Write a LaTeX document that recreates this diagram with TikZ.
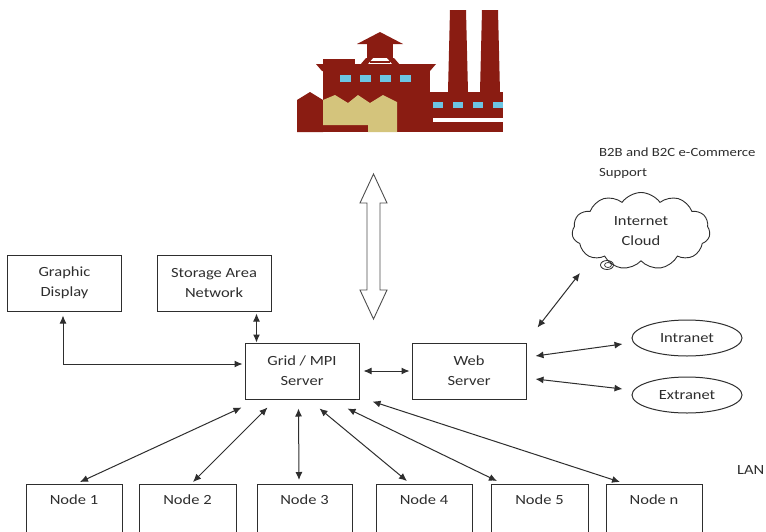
\documentclass[tikz,border=0pt]{standalone}
\usepackage{fontspec}
\setmainfont{Carlito}[FakeStretch=1.18]
\usetikzlibrary{arrows.meta,shapes.geometric,shapes.symbols}
\definecolor{ink}{HTML}{2E2E2E}
\definecolor{brick}{HTML}{8A1C12}
\definecolor{sand}{HTML}{D4C47C}
\definecolor{pane}{HTML}{6CC5E3}
\begin{document}
\begin{tikzpicture}[x=1pt,y=-1pt,
  txt/.style={text=ink, font=\fontsize{14}{20}\selectfont},
  box/.style={txt, draw=ink, line width=1pt, rectangle, align=center, inner sep=0pt},
  srvbox/.style={box, minimum width=114pt, minimum height=56pt},
  nodebox/.style={box, minimum height=60pt, text height=9pt, text depth=29pt, anchor=north},
  oval/.style={txt, draw=ink, ellipse, line width=1pt, minimum width=110pt, minimum height=36pt, inner sep=0pt},
  link/.style={draw=ink, line width=1pt, {Latex[length=8pt,width=7pt]}-{Latex[length=8pt,width=7pt]}},
]
\clip (0,0) rectangle (766,531);
\fill[white] (0,0) rectangle (766,531);

% ---- factory ----
\fill[brick] (448,92) -- (450,10) -- (466,10) -- (468,92) -- cycle;
\fill[brick] (480,92) -- (482,10) -- (498,10) -- (500,92) -- cycle;
\fill[brick] (430,92) rectangle (503,132);
\fill[white] (433,118) rectangle (503,122);
\foreach \wx in {433,453,473,493} \fill[pane] (\wx,101.5) rectangle ++(10,6);
\fill[brick] (323,67) rectangle (430,132);
\fill[brick] (316,64) -- (436,64) -- (430,71) -- (322,71) -- cycle;
\fill[brick] (323,59) rectangle (355,65);
\fill[brick] (357,44) -- (380,32) -- (403,44) -- cycle;
\fill[brick] (367,43) rectangle (393,58);
\fill[brick] (366,58) -- (373,58) -- (367,65) -- (360,65) -- cycle;
\fill[brick] (387,58) -- (394,58) -- (400,65) -- (393,65) -- cycle;
\fill[brick] (370,61) rectangle (390,63);
\foreach \wx in {340,360,380,400} \fill[pane] (\wx,75) rectangle ++(10.5,7);
\fill[brick] (297,132) -- (297,100) -- (310,92) -- (323,100) -- (323,132) -- cycle;
\fill[sand] (323,100) -- (335,95) -- (348,103) -- (358,95) -- (370,103) -- (383,95)
  -- (397,102) -- (397,132) -- (368,132) -- (368,125) -- (323,125) -- cycle;

% ---- hollow double arrow below the factory ----
\draw[ink!85, line width=0.9pt, fill=white, line join=miter]
  (373.5,174) -- (387,203) -- (380,203) -- (380,290) -- (387,290) -- (373.5,319)
  -- (360,290) -- (367,290) -- (367,203) -- (360,203) -- cycle;

% ---- boxes ----
\node[srvbox] (gd)   at (64.5,283) {Graphic\\Display};
\node[srvbox] (san)  at (214,283)  {Storage Area\\Network};
\node[srvbox] (grid) at (302,371)  {Grid / MPI\\Server};
\node[srvbox] (web)  at (469,371)  {Web\\Server};

\node[nodebox, minimum width=96pt] (n1) at (74,484)    {Node 1};
\node[nodebox, minimum width=97pt] (n2) at (187.5,484) {Node 2};
\node[nodebox, minimum width=95pt] (n3) at (304.5,484) {Node 3};
\node[nodebox, minimum width=96pt] (n4) at (424,484)   {Node 4};
\node[nodebox, minimum width=97pt] (n5) at (539.5,484) {Node 5};
\node[nodebox, minimum width=96pt] (nn) at (654,484)   {Node n};

\node[oval] (intra) at (687,338) {Intranet};
\node[oval] (extra) at (687,395) {Extranet};

\node[txt, cloud, draw=ink, line width=0.9pt, cloud puffs=11, cloud puff arc=110,
      aspect=1.8, minimum width=138pt, minimum height=77pt, align=center,
      inner sep=0pt] (cloud) at (641,231) {Internet\\Cloud};
\draw[ink, line width=0.8pt] (607,265) ellipse [x radius=6.5pt, y radius=4.5pt];
\draw[ink, line width=0.7pt] (608,265) ellipse [x radius=3.5pt, y radius=2.5pt];

\node[txt, font=\fontsize{12.5}{20}\selectfont, anchor=west, align=left, inner sep=0pt]
  (b2b) at (599,163) {B2B and B2C e-Commerce\\Support};
\node[txt, anchor=west, inner sep=0pt] (lan) at (737,470) {LAN};

% ---- connectors ----
\draw[link] ([xshift=-1.5pt,yshift=-4pt]gd.south) |- ([xshift=-2pt,yshift=7pt]grid.west);
\coordinate (sanlink) at ([xshift=12pt]grid.north west);
\draw[link] ([yshift=-2pt]sanlink |- san.south) -- (sanlink);
\draw[link] ([xshift=4pt]grid.east) -- ([xshift=-2pt]web.west);
\draw[link] ([xshift=11pt,yshift=15pt]web.north east) -- ([xshift=-61pt,yshift=-42pt]cloud.center);
\draw[link] ([xshift=9pt,yshift=15pt]web.east) -- ([xshift=-9pt,yshift=-6pt]intra.west);
\draw[link] ([xshift=9pt,yshift=-8pt]web.east) -- ([xshift=-9pt,yshift=6pt]extra.west);

\draw[link] ([xshift=-3pt,yshift=-8pt]grid.south west) -- ([xshift=6pt,yshift=2pt]n1.north);
\draw[link] ([xshift=23pt,yshift=-8pt]grid.south west) -- ([xshift=5.5pt,yshift=2pt]n2.north);
\draw[link] ([xshift=54pt,yshift=-9pt]grid.south west) -- ([xshift=-5.5pt,yshift=4pt]n3.north);
\draw[link] ([xshift=75pt,yshift=-9pt]grid.south west) -- ([xshift=-17pt,yshift=3pt]n4.north);
\draw[link] ([xshift=103pt,yshift=-9pt]grid.south west) -- ([xshift=-42.5pt,yshift=3pt]n5.north);
\draw[link] ([xshift=128pt,yshift=-2pt]grid.south west) -- ([xshift=-34pt,yshift=2pt]nn.north);
\end{tikzpicture}
\end{document}
